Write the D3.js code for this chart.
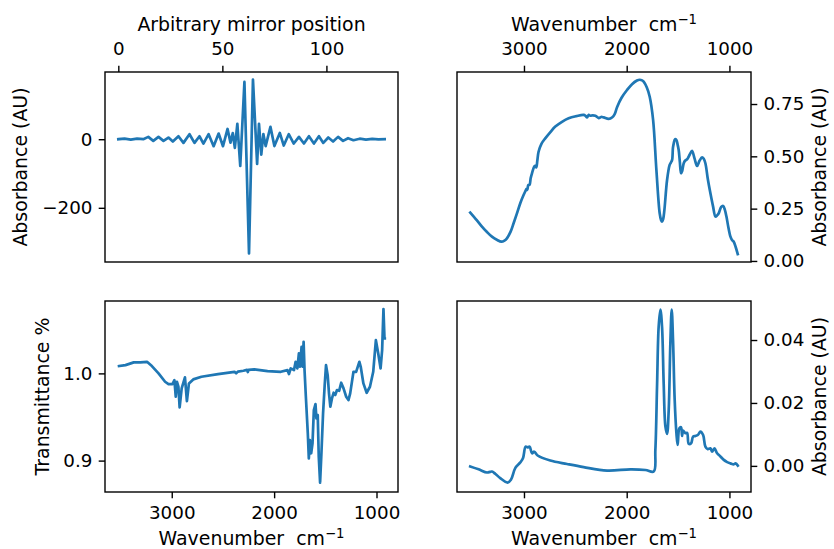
<!DOCTYPE html>
<html><head><meta charset="utf-8">
<script src="https://cdn.jsdelivr.net/npm/d3@7"></script>
<style>body{margin:0;background:#fff} text{font-family:"DejaVu Sans";}</style>
</head><body><svg id="c" width="834" height="549"></svg>
<script>
// ---------- data ----------
const mirrorPos = [0,3,6,9,12,14.4,16.8,19.3,21.7,24.1,26.2,28.9,31.3,34.2,36.6,39.0,40.9,43.4,45.8,48.2,50.3,52.5,53.9,55.0,56.0,57.2,58.6,60.6,62.8,64.7,66.7,67.6,68.7,69.7,70.8,73.1,75.0,77.6,79.5,81.9,84.3,86.8,89.2,91.6,94.0,96.4,98.5,100.9,103.2,105.6,108.0,110.4,113.0,116,119,122,125,128];
const interferogram = [0,1.5,-1,1.5,0,6.8,-4.9,6.8,-4.9,4.9,-6.8,8.7,-10.7,14.6,-10.7,8.7,-12.6,14.6,-20.4,16.5,-20.4,30,-10,18,-25,45,-78,167,-333,174,-72,45,-45,15,-20,36,-20,18.4,-18.4,14.6,-12.6,6.8,-12.6,8.7,-12.6,8.7,-10.7,4.9,-6.8,6.8,-4.9,2.9,-2.9,1.5,-1,1,-0.5,0];

const wnAbs = [3523,3460,3409,3360,3312,3260,3221,3190,3166,3130,3101,3070,3036,3004,2985,2975,2968,2958,2945,2935,2922,2900,2890,2880,2870,2858,2830,2793,2745,2695,2630,2565,2490,2419,2400,2386,2370,2354,2330,2305,2273,2250,2224,2176,2140,2117,2094,2050,1997,1948,1900,1874,1850,1835,1805,1776,1743,1711,1679,1665,1656,1645,1633,1607,1582,1570,1558,1550,1542,1530,1516,1504,1494,1482,1471,1460,1445,1430,1420,1406,1385,1364,1340,1315,1290,1266,1250,1234,1210,1185,1160,1136,1120,1104,1080,1061,1045,1029,1010,990,975,958,940,919];
const absorbance = [0.231,0.195,0.164,0.138,0.116,0.100,0.092,0.097,0.108,0.140,0.180,0.225,0.276,0.315,0.335,0.345,0.340,0.362,0.365,0.395,0.419,0.451,0.455,0.447,0.480,0.522,0.560,0.586,0.615,0.642,0.665,0.682,0.692,0.698,0.693,0.686,0.698,0.694,0.696,0.694,0.683,0.688,0.686,0.679,0.687,0.702,0.735,0.780,0.817,0.845,0.862,0.866,0.863,0.857,0.830,0.785,0.674,0.435,0.228,0.195,0.188,0.200,0.244,0.387,0.459,0.470,0.483,0.540,0.562,0.582,0.578,0.555,0.530,0.470,0.419,0.430,0.467,0.480,0.483,0.490,0.510,0.526,0.490,0.454,0.480,0.495,0.488,0.467,0.390,0.323,0.262,0.212,0.218,0.228,0.258,0.263,0.245,0.212,0.160,0.116,0.100,0.092,0.068,0.033];

const wnTrans = [3515,3452,3371,3307,3242,3194,3129,3065,3032,2993,2974,2961,2949,2935,2923,2903,2871,2852,2832,2790,2710,2548,2387,2371,2354,2300,2265,2257,2250,2194,2064,1935,1870,1855,1838,1806,1790,1773,1758,1748,1732,1722,1712,1703,1690,1671,1661,1651,1638,1625,1612,1596,1587,1574,1564,1551,1538,1522,1506,1493,1477,1464,1451,1435,1419,1403,1386,1365,1345,1322,1296,1274,1257,1225,1199,1167,1154,1128,1096,1064,1032,1006,983,960,945,932,922,919];
const transmittance = [1.0084,1.0095,1.0126,1.0126,1.0133,1.0084,1.000,0.9904,0.9877,0.9877,0.9923,0.9732,0.9904,0.9847,0.9610,0.9828,0.9954,0.9683,0.9885,0.9931,0.9961,0.9992,1.0018,1.0000,1.0020,1.0030,1.0040,1.0015,1.0040,1.0046,1.0026,1.0018,1.0038,0.9992,1.0057,1.0038,1.0133,1.0057,1.0229,1.0076,1.0305,1.0076,1.0362,1.0038,0.9732,0.9313,0.9026,0.9236,0.9084,0.9198,0.958,0.9648,0.9484,0.9522,0.9045,0.8747,0.9084,0.9542,0.9866,1.0095,0.998,0.9771,0.9618,0.9713,0.9778,0.9752,0.9809,0.9800,0.9893,0.9828,0.9732,0.9694,0.9771,1.0018,1.0018,1.0133,1.0076,0.9885,0.9778,0.9847,1.0018,1.0381,1.0229,1.0057,1.0267,1.0737,1.040,1.040];

const wnDiff = [3523,3442,3360,3330,3312,3280,3231,3160,3127,3085,3036,3010,2984,2965,2945,2922,2900,2867,2744,2581,2419,2191,1964,1818,1737,1721,1704,1689,1672,1656,1640,1623,1607,1591,1575,1562,1549,1533,1516,1504,1487,1471,1461,1451,1429,1412,1396,1373,1354,1331,1308,1282,1256,1234,1211,1185,1169,1146,1120,1088,1055,1022,990,958,940,919];
const absDiff = [-0.0002,-0.0011,-0.0021,-0.0019,-0.0018,-0.0025,-0.0039,-0.0053,-0.0044,-0.0007,0.0011,0.0024,0.0061,0.0059,0.0061,0.0040,0.0045,0.0033,0.0017,0.0006,-0.0004,-0.0015,-0.0011,-0.0013,-0.0018,0.0051,0.0262,0.0442,0.0497,0.0442,0.0262,0.0125,0.0102,0.0178,0.039,0.0497,0.040,0.021,0.0104,0.0067,0.012,0.0123,0.0095,0.0112,0.0104,0.0105,0.007,0.0072,0.0093,0.0095,0.0098,0.0109,0.0098,0.0061,0.0053,0.0056,0.0045,0.0056,0.004,0.003,0.0019,0.0012,0.0008,0.0005,0.0008,0.0001];

// tick labels
const mirrorTicks = [0, 50, 100];
const interfTicks = [0, -200];
const wnTicks = [3000, 2000, 1000];
const absTicks = [0, 0.25, 0.5, 0.75];
const transTicks = [0.9, 1.0];
const diffTicks = [0, 0.02, 0.04];

// ---------- drawing ----------
const svg = d3.select("#c");
const FS = 18.3, LFS = 18.9, LW = 1.4, TL = 6.3, COLOR = "#1f77b4";
const P1 = {l:105, r:398, t:72, b:262};
const P2 = {l:457, r:751, t:72, b:262};
const P3 = {l:105, r:398, t:301, b:492};
const P4 = {l:457, r:751, t:301, b:492};
const WN_DOMAIN = [3652, 790];

function styleAxis(g) {
  g.attr("font-size", null).attr("font-family", null);
  g.selectAll("path.domain").remove();
  g.selectAll(".tick line").attr("stroke", "#000").attr("stroke-width", LW);
  g.selectAll(".tick text").attr("fill", "#000").style("font-size", FS + "px").style("font-family", "DejaVu Sans");
}
function frame(P) {
  svg.append("rect").attr("x", P.l).attr("y", P.t).attr("width", P.r - P.l).attr("height", P.b - P.t)
    .attr("fill", "none").attr("stroke", "#000").attr("stroke-width", LW);
}
let clipId = 0;
function drawLine(P, xs, ys, xs_, ys_, curve) {
  const id = "clip" + (clipId++);
  svg.append("clipPath").attr("id", id).append("rect")
    .attr("x", P.l).attr("y", P.t).attr("width", P.r - P.l).attr("height", P.b - P.t);
  const pts = xs.map((x, i) => [x, ys[i]]);
  svg.append("path").datum(pts).attr("clip-path", `url(#${id})`)
    .attr("fill", "none").attr("stroke", COLOR).attr("stroke-width", 2.7)
    .attr("stroke-linejoin", "round").attr("stroke-linecap", "square")
    .attr("d", d3.line().x(d => xs_(d[0])).y(d => ys_(d[1])).curve(curve || d3.curveLinear));
}
function ylabel(text, x, yc) {
  svg.append("text").attr("transform", `translate(${x},${yc}) rotate(-90)`)
    .attr("text-anchor", "middle").style("font-size", LFS + "px").attr("fill", "#000").text(text);
}
function wnLabel(xc, y) {
  const t = svg.append("text").attr("x", xc).attr("y", y).attr("text-anchor", "middle")
    .style("font-size", LFS + "px").style("white-space", "pre").attr("fill", "#000");
  t.append("tspan").text("Wavenumber  cm");
  t.append("tspan").attr("dy", -7.5).style("font-size", (LFS * 0.7) + "px").text("\u22121");
}

// Panel 1: interferogram
const x1 = d3.scaleLinear().domain([-6.4, 134.4]).range([P1.l, P1.r]);
const y1 = d3.scaleLinear().domain([-358, 196]).range([P1.b, P1.t]);
drawLine(P1, mirrorPos, interferogram, x1, y1);
frame(P1);
svg.append("g").attr("transform", `translate(0,${P1.t})`)
  .call(d3.axisTop(x1).tickValues(mirrorTicks).tickFormat(d3.format("d")).tickSize(TL).tickSizeOuter(0).tickPadding(10.6)).call(styleAxis);
svg.append("g").attr("transform", `translate(${P1.l},0)`)
  .call(d3.axisLeft(y1).tickValues(interfTicks).tickFormat(d3.format("d")).tickSize(TL).tickSizeOuter(0).tickPadding(TL)).call(styleAxis);
svg.append("text").attr("x", (P1.l + P1.r) / 2).attr("y", 31).attr("text-anchor", "middle")
  .style("font-size", LFS + "px").attr("fill", "#000").text("Arbitrary mirror position");
ylabel("Absorbance (AU)", 27, (P1.t + P1.b) / 2);

// Panel 2: absorbance spectrum
const x2 = d3.scaleLinear().domain(WN_DOMAIN).range([P2.l, P2.r]);
const y2 = d3.scaleLinear().domain([-0.005, 0.903]).range([P2.b, P2.t]);
drawLine(P2, wnAbs, absorbance, x2, y2, d3.curveCatmullRom.alpha(0.5));
frame(P2);
svg.append("g").attr("transform", `translate(0,${P2.t})`)
  .call(d3.axisTop(x2).tickValues(wnTicks).tickFormat(d3.format("d")).tickSize(TL).tickSizeOuter(0).tickPadding(10.6)).call(styleAxis);
svg.append("g").attr("transform", `translate(${P2.r},0)`)
  .call(d3.axisRight(y2).tickValues(absTicks).tickFormat(d3.format(".2f")).tickSize(TL).tickSizeOuter(0).tickPadding(TL)).call(styleAxis);
wnLabel((P2.l + P2.r) / 2, 31);
ylabel("Absorbance (AU)", 826, (P2.t + P2.b) / 2);

// Panel 3: transmittance
const x3 = d3.scaleLinear().domain(WN_DOMAIN).range([P3.l, P3.r]);
const y3 = d3.scaleLinear().domain([0.864, 1.083]).range([P3.b, P3.t]);
drawLine(P3, wnTrans, transmittance, x3, y3);
frame(P3);
svg.append("g").attr("transform", `translate(0,${P3.b})`)
  .call(d3.axisBottom(x3).tickValues(wnTicks).tickFormat(d3.format("d")).tickSize(TL).tickSizeOuter(0).tickPadding(7.5)).call(styleAxis);
svg.append("g").attr("transform", `translate(${P3.l},0)`)
  .call(d3.axisLeft(y3).tickValues(transTicks).tickFormat(d3.format(".1f")).tickSize(TL).tickSizeOuter(0).tickPadding(TL)).call(styleAxis);
wnLabel((P3.l + P3.r) / 2, 545);
ylabel("Transmittance %", 49, (P3.t + P3.b) / 2);

// Panel 4: absorbance difference
const x4 = d3.scaleLinear().domain(WN_DOMAIN).range([P4.l, P4.r]);
const y4 = d3.scaleLinear().domain([-0.0083, 0.0524]).range([P4.b, P4.t]);
drawLine(P4, wnDiff, absDiff, x4, y4, d3.curveCatmullRom.alpha(0.5));
frame(P4);
svg.append("g").attr("transform", `translate(0,${P4.b})`)
  .call(d3.axisBottom(x4).tickValues(wnTicks).tickFormat(d3.format("d")).tickSize(TL).tickSizeOuter(0).tickPadding(7.5)).call(styleAxis);
svg.append("g").attr("transform", `translate(${P4.r},0)`)
  .call(d3.axisRight(y4).tickValues(diffTicks).tickFormat(d3.format(".2f")).tickSize(TL).tickSizeOuter(0).tickPadding(TL)).call(styleAxis);
wnLabel((P4.l + P4.r) / 2, 545);
ylabel("Absorbance (AU)", 826, (P4.t + P4.b) / 2);
</script></body></html>
